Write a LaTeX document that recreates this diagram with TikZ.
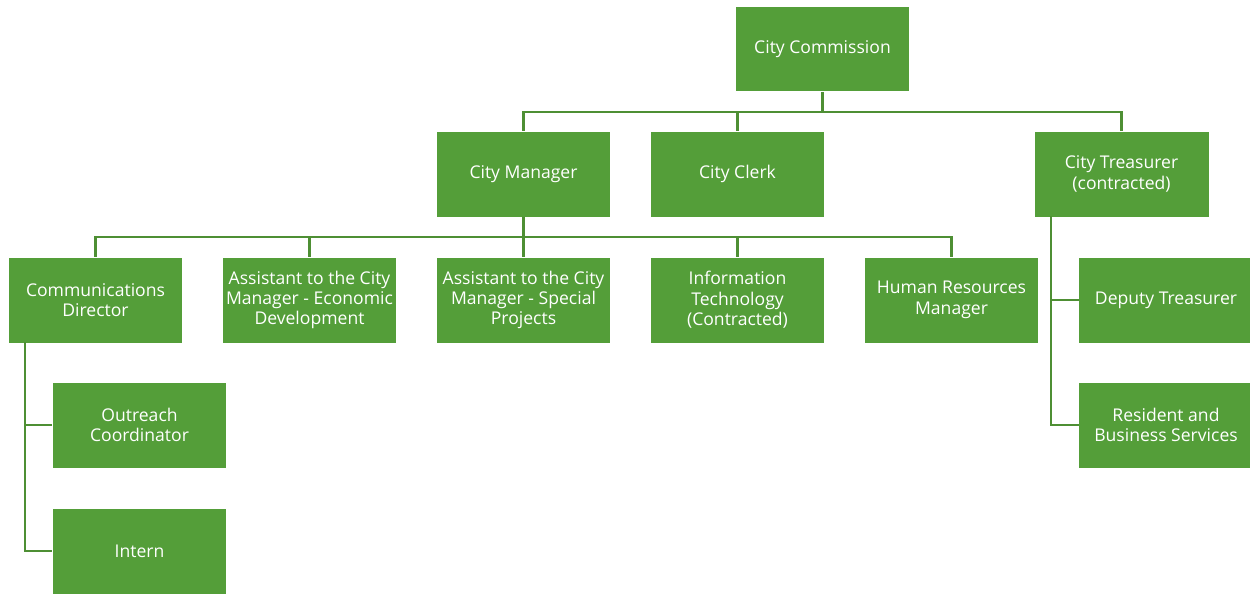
\documentclass[tikz,border=0pt]{standalone}
\usepackage{fontspec}
\setmainfont{Open Sans}
\definecolor{boxgreen}{HTML}{549E39}
\definecolor{linegreen}{HTML}{4E8F34}
\tikzset{
  unit/.style={fill=boxgreen, text=white, align=center, inner sep=0pt,
    minimum width=3.48cm, minimum height=1.7cm,
    font=\fontsize{10}{11.6}\selectfont},
  link/.style={draw=linegreen, line width=1.6pt}
}
\begin{document}
\begin{tikzpicture}[x=0.02cm, y=-0.02cm]
    \useasboundingbox (0, 0) rectangle (1250, 593);

    \node[unit] (commission) at (822.5, 49) {City Commission};

    \node[unit] (manager) at (523.5, 174) {City Manager};
    \node[unit] (clerk) at (737.5, 174) {City Clerk};
    \node[unit] (treasurer) at (1121.5, 174) {City Treasurer\\(contracted)};

    \node[unit] (comms) at (95.5, 300) {Communications\\Director};
    \node[unit] (econ) at (309.5, 300) {Assistant to the City\\Manager - Economic\\Development};
    \node[unit] (special) at (523.5, 300) {Assistant to the City\\Manager - Special\\Projects};
    \node[unit] (infotech) at (737.5, 300) {Information\\Technology\\(Contracted)};
    \node[unit] (hr) at (951.5, 300) {Human Resources\\Manager};
    \node[unit] (deputy) at (1166, 300) {Deputy Treasurer};

    \node[unit] (outreach) at (139.5, 425) {Outreach\\Coordinator};
    \node[unit] (intern) at (139.5, 551) {Intern};
    \node[unit] (resident) at (1166, 425) {Resident and\\Business Services};

    % commission level
    \coordinate (busA) at (822.5, 112);
    \draw[link] (commission.south) -- (busA);
    \draw[link] (busA) -| (manager.north);
    \draw[link] (busA) -| (clerk.north);
    \draw[link] (busA) -| (treasurer.north);

    % manager level
    \coordinate (busB) at (523.5, 237);
    \draw[link] (manager.south) -- (busB);
    \foreach \n in {comms, econ, special, infotech, hr}
      \draw[link] (busB) -| (\n.north);

    % side branches
    \coordinate (spineL) at (25, 342);
    \draw[link] (spineL) |- (outreach.west);
    \draw[link] (spineL) |- (intern.west);
    \coordinate (spineR) at (1051, 216);
    \draw[link] (spineR) |- (deputy.west);
    \draw[link] (spineR) |- (resident.west);
  \end{tikzpicture}
\end{document}
